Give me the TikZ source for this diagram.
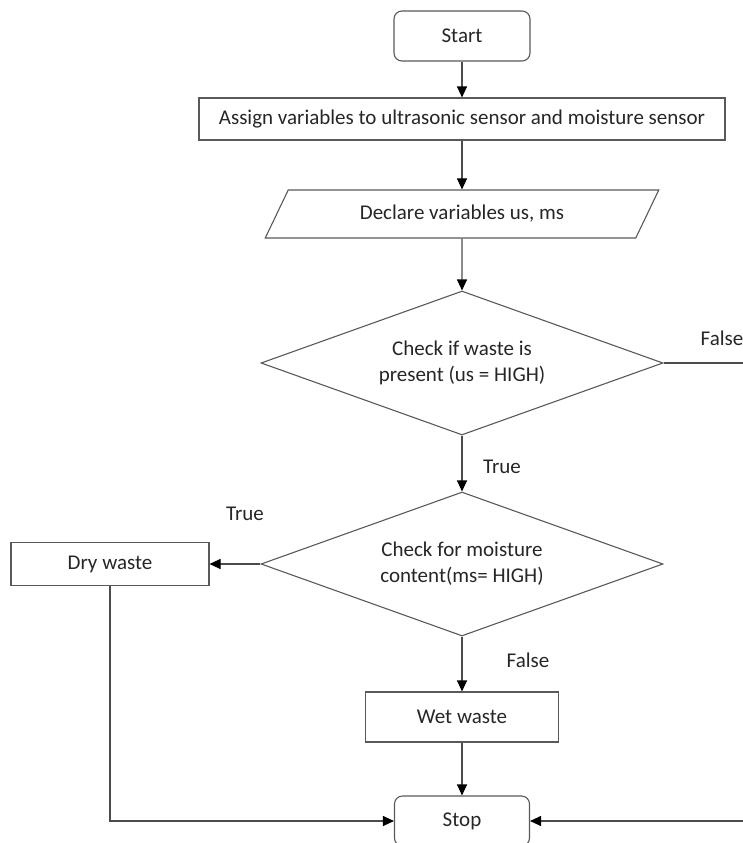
\documentclass[tikz,border=0pt]{standalone}
\usepackage{fontspec}
\setmainfont{Carlito}
\usetikzlibrary{shapes.geometric, arrows.meta}
\def\arr{-{Triangle[length=11pt,width=10pt,color=black]}}

\begin{document}
\begin{tikzpicture}[x=1pt, y=-1pt,
    font=\fontsize{21}{26}\selectfont, text=black!85,
    every node/.style={draw=black!65, line width=1.1pt, inner sep=0pt},
    term/.style={rounded corners=8pt, minimum width=136pt, minimum height=50pt},
    proc/.style={minimum height=43pt},
    iobox/.style={trapezium, trapezium left angle=52, trapezium right angle=128,
        trapezium stretches=true, minimum width=394pt, minimum height=48pt},
    test/.style={diamond, aspect=2.8, align=center, minimum width=402pt, minimum height=144pt},
    lbl/.style={draw=none},
    line/.style={draw=black!70, line width=1.1pt}]
    \useasboundingbox (0,0) rectangle (743,843);
    % column of steps
    \node[term] (start) at (462,36) {Start};
    \node[proc, minimum width=526pt, minimum height=42pt] (assign) at (462,119)
        {Assign variables to ultrasonic sensor and moisture sensor};
    \node[iobox] (declare) at (462,214) {Declare variables us, ms};
    \node[test] (check1) at (462,363) {Check if waste is\\present (us = HIGH)};
    \node[test] (check2) at (462,564) {Check for moisture\\content(ms= HIGH)};
    \node[proc, minimum width=198pt] (dry) at (110,564) {Dry waste};
    \node[proc, minimum width=193pt, minimum height=50pt] (wet) at (462,717) {Wet waste};
    \node[term, minimum width=135pt] (stop) at (462,821) {Stop};
    \coordinate (loop) at (775,363);
    % branch labels
    \node[lbl] (false1) at (722,338) {False};
    \node[lbl] (true1) at (502,467) {True};
    \node[lbl] (true2) at (245,514) {True};
    \node[lbl] (false2) at (528,660) {False};
    % connectors
    \draw[line, \arr] (start) -- (assign);
    \draw[line, \arr] (assign) -- (declare);
    \draw[line, \arr] (declare) -- (check1);
    \draw[line, \arr] (check1) -- (check2);
    \draw[line, \arr] (check2) -- (dry);
    \draw[line, \arr] (check2) -- (wet);
    \draw[line, \arr] (wet) -- (stop);
    \draw[line, \arr] (dry) |- (stop);
    \draw[line, \arr] (check1) -- (loop) |- (stop);
\end{tikzpicture}
\end{document}
